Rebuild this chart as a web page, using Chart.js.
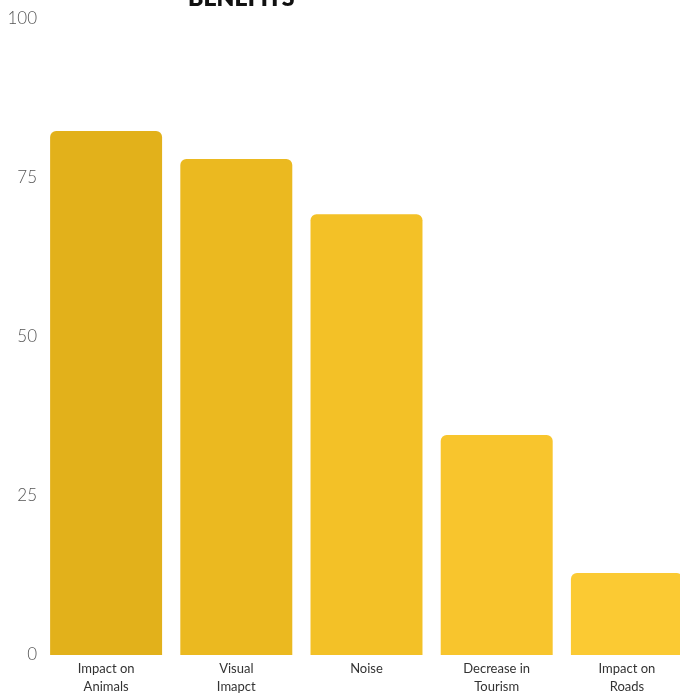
<!DOCTYPE html>
<html lang="en">
<head>
  <meta charset="UTF-8">
  <title>Benefits</title>
  <script src="https://cdn.jsdelivr.net/npm/chart.js@4.4.0/dist/chart.umd.min.js"></script>
  <style>
    html, body { margin: 0; padding: 0; background: #fff; overflow: hidden; }
    .wrap { position: relative; width: 680px; height: 696px; overflow: hidden; }
    .title {
      position: absolute; left: 188px; top: -17px;
      font: 800 23px "Lato", "DejaVu Sans", sans-serif; color: #111;
    }
    .box { position: absolute; left: 0; top: 0; width: 692px; height: 696px; }
  </style>
</head>
<body>
  <div class="wrap">
    <div class="box"><canvas id="chart"></canvas></div>
    <div class="title">BENEFITS</div>
  </div>

<script>
  // data
  var categories = [["Impact on", "Animals"], ["Visual", "Imapct"], ["Noise"], ["Decrease in", "Tourism"], ["Impact on", "Roads"]];
  var values = [82.4, 78, 69.3, 34.6, 12.9];
  var barColours = ["#e2b11b", "#ebb920", "#f3c127", "#f8c52d", "#fbca33"];
  var yTicks = [0, 25, 50, 75, 100];

  var ctx = document.getElementById('chart').getContext('2d');

  var chart = new Chart(ctx, {
    type: 'bar',
    data: {
      labels: categories,
      datasets: [
        {
          label: "Benefits",
          data: values,
          backgroundColor: barColours,
          borderRadius: { topLeft: 6, topRight: 6 },
          borderSkipped: 'bottom',
          barPercentage: 0.86,
          categoryPercentage: 1
        }
      ]
    },
    options: {
      responsive: true,
      maintainAspectRatio: false,
      animation: false,
      layout: { padding: { top: 19, right: 0, left: 0, bottom: 0 } },
      plugins: {
        legend: { display: false },
        tooltip: { enabled: false }
      },
      scales: {
        x: {
          grid: { display: false },
          border: { display: false },
          ticks: {
            color: '#333',
            font: { family: 'Lato', size: 13, lineHeight: 1.4 },
            maxRotation: 0,
            padding: -3
          },
          afterFit: function(scale) { scale.height = 41; }
        },
        y: {
          min: 0,
          max: 100,
          afterBuildTicks: function(scale) {
            scale.ticks = yTicks.map(function(v) { return { value: v }; });
          },
          grid: { display: false },
          border: { display: false },
          ticks: {
            color: '#555',
            font: { family: 'Lato', size: 17, weight: 300 },
            padding: -4
          },
          afterFit: function(scale) { scale.width = 41; }
        }
      }
    }
  });
</script>
</body>
</html>
